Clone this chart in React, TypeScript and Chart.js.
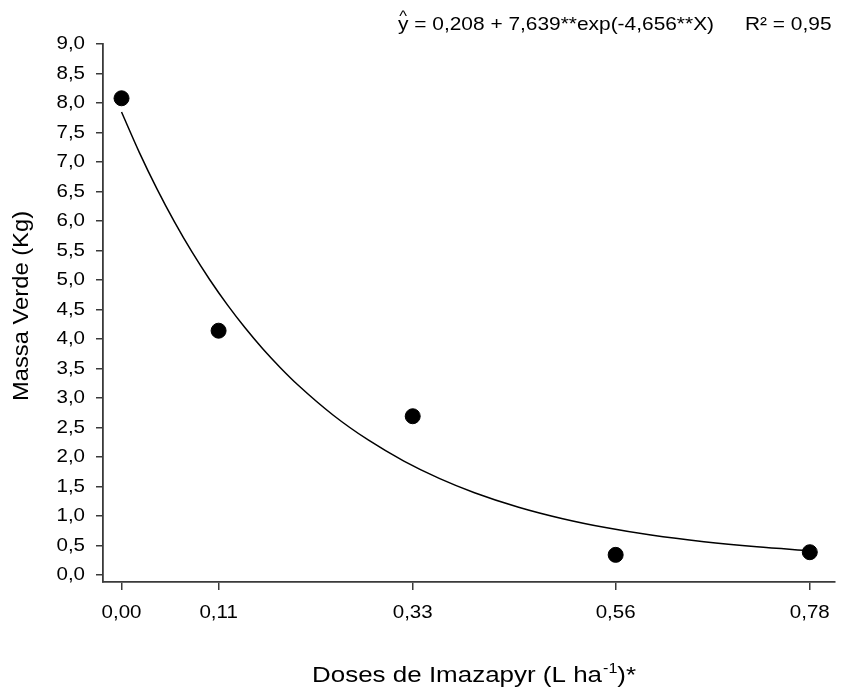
import React, { useEffect, useRef } from "react";
import { Chart, registerables } from "chart.js";

Chart.register(...registerables);

const doses = [0, 0.11, 0.33, 0.56, 0.78];
const massaVerde = [8.08, 4.14, 2.69, 0.34, 0.385];

const curveX = [0, 0.02, 0.04, 0.06, 0.08, 0.1, 0.12, 0.14, 0.16, 0.18, 0.2, 0.24, 0.28, 0.32, 0.36, 0.4, 0.45, 0.5, 0.55, 0.6, 0.66, 0.72, 0.78];
const curveY = [7.847, 7.168, 6.549, 5.985, 5.471, 5.004, 4.578, 4.189, 3.834, 3.513, 3.219, 2.707, 2.283, 1.93, 1.637, 1.394, 1.148, 0.953, 0.798, 0.675, 0.562, 0.476, 0.41];

const xTicks = [0, 0.11, 0.33, 0.56, 0.78];
const xTickLabels = ["0,00", "0,11", "0,33", "0,56", "0,78"];
const yTicks = [0, 0.5, 1, 1.5, 2, 2.5, 3, 3.5, 4, 4.5, 5, 5.5, 6, 6.5, 7, 7.5, 8, 8.5, 9];
const yTickLabels = ["0,0", "0,5", "1,0", "1,5", "2,0", "2,5", "3,0", "3,5", "4,0", "4,5", "5,0", "5,5", "6,0", "6,5", "7,0", "7,5", "8,0", "8,5", "9,0"];

const equationText = " = 0,208 + 7,639**exp(-4,656**X)";
const r2Text = "R² = 0,95";
const xTitleMain = "Doses de Imazapyr (L ha";
const xTitleSup = "-1";
const xTitleEnd = ")*";
const yTitle = "Massa Verde (Kg)";

const FONT = "'Liberation Sans', Arial, sans-serif";
const AXIS = "#3a3a3a";

function txt(
  ctx: CanvasRenderingContext2D,
  s: string,
  x: number,
  y: number,
  size: number,
  sx: number,
  align: CanvasTextAlign = "left",
  baseline: CanvasTextBaseline = "alphabetic"
) {
  ctx.save();
  ctx.font = `${size}px ${FONT}`;
  ctx.textAlign = align;
  ctx.textBaseline = baseline;
  ctx.translate(x, y);
  ctx.scale(sx, 1);
  ctx.fillText(s, 0, 0);
  const w = ctx.measureText(s).width * sx;
  ctx.restore();
  return w;
}

function width(ctx: CanvasRenderingContext2D, s: string, size: number, sx: number) {
  ctx.save();
  ctx.font = `${size}px ${FONT}`;
  const w = ctx.measureText(s).width * sx;
  ctx.restore();
  return w;
}

const textPlugin = {
  id: "texts",
  afterDraw(chart: any) {
    const ctx = chart.ctx as CanvasRenderingContext2D;
    ctx.save();
    ctx.fillStyle = "#000";
    const xs = chart.scales.x;
    const ys = chart.scales.y;
    // tick labels
    yTicks.forEach((v, i) => {
      txt(ctx, yTickLabels[i], 85, ys.getPixelForValue(v), 19, 1.08, "right", "middle");
    });
    xTicks.forEach((v, i) => {
      txt(ctx, xTickLabels[i], xs.getPixelForValue(v), 618, 19, 1.08, "center", "alphabetic");
    });
    // equation
    const yw = txt(ctx, "y", 398, 30, 19, 1.1);
    txt(ctx, "^", 398 + yw / 2, 21, 15, 1.1, "center");
    txt(ctx, equationText, 398 + yw, 30, 19, 1.1);
    txt(ctx, r2Text, 745, 30, 19, 1.1);
    // x title
    let tx = 312;
    const tb = 682;
    tx += txt(ctx, xTitleMain, tx, tb, 22, 1.18);
    tx += txt(ctx, xTitleSup, tx + 1, tb - 9, 14, 1.15) + 1;
    txt(ctx, xTitleEnd, tx, tb, 22, 1.18);
    // y title
    ctx.save();
    ctx.translate(28, 306);
    ctx.rotate(-Math.PI / 2);
    txt(ctx, yTitle, 0, 0, 22, 1.08, "center", "alphabetic");
    ctx.restore();
    ctx.restore();
  },
};

export default function App() {
  const ref = useRef<HTMLCanvasElement>(null);
  useEffect(() => {
    document.body.style.margin = "0";
    const chart = new Chart(ref.current!, {
      type: "scatter",
      data: {
        datasets: [
          {
            data: curveX.map((v, i) => ({ x: v, y: curveY[i] })),
            showLine: true,
            borderColor: "#000",
            borderWidth: 1.5,
            pointRadius: 0,
            cubicInterpolationMode: "monotone",
            order: 2,
          },
          {
            data: doses.map((v, i) => ({ x: v, y: massaVerde[i] })),
            backgroundColor: "#000",
            borderColor: "#000",
            pointRadius: 7.5,
            order: 1,
          },
        ],
      } as any,
      options: {
        animation: false,
        responsive: false,
        events: [],
        layout: { padding: { left: 0, top: 44, right: 2, bottom: 0 } },
        plugins: { legend: { display: false }, tooltip: { enabled: false } },
        scales: {
          x: {
            type: "linear",
            min: -0.021,
            max: 0.808,
            afterBuildTicks: (s: any) => {
              s.ticks = xTicks.map((v) => ({ value: v }));
            },
            afterFit: (s: any) => {
              s.height = 113;
            },
            border: { display: true, color: AXIS, width: 1.8 },
            grid: { drawOnChartArea: false, drawTicks: true, tickLength: 8, color: AXIS, lineWidth: 1.5 },
            ticks: { display: false, autoSkip: false },
          },
          y: {
            type: "linear",
            min: -0.12,
            max: 9.0,
            afterBuildTicks: (s: any) => {
              s.ticks = yTicks.map((v) => ({ value: v }));
            },
            afterFit: (s: any) => {
              s.width = 103;
            },
            border: { display: true, color: AXIS, width: 1.8 },
            grid: { drawOnChartArea: false, drawTicks: true, tickLength: 7, color: AXIS, lineWidth: 1.5 },
            ticks: { display: false, autoSkip: false },
          },
        },
      },
      plugins: [textPlugin],
    });
    return () => chart.destroy();
  }, []);
  return (
    <div style={{ position: "absolute", left: 0, top: 0, width: 843, height: 695 }}>
      <canvas ref={ref} width={843} height={695} style={{ width: 843, height: 695 }} />
    </div>
  );
}
